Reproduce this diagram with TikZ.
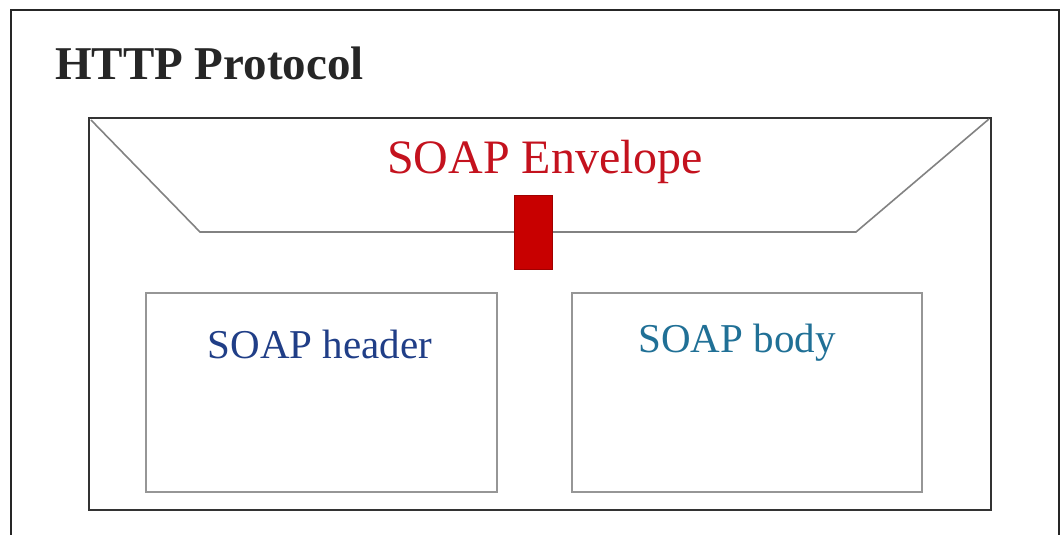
\documentclass[tikz,border=0pt]{standalone}
\usepackage{fontspec}
\setmainfont{Liberation Serif}
\definecolor{envred}{RGB}{196,18,30}
\definecolor{hdrblue}{RGB}{32,62,135}
\definecolor{bodyteal}{RGB}{32,112,150}
\definecolor{sealred}{RGB}{200,0,0}
\definecolor{boxgray}{RGB}{150,150,150}
\definecolor{linegray}{RGB}{130,130,130}
\begin{document}
\begin{tikzpicture}[x=1pt,y=-1pt,
  outerline/.style={draw=black!85,line width=2.6pt},
  envline/.style={draw=black!80,line width=2.2pt},
  flapline/.style={draw=linegray,line width=1.6pt},
  partbox/.style={draw=boxgray,line width=1.6pt,rectangle,inner sep=0pt},
  lbl/.style={inner sep=0pt,font=\fontsize{41}{41}\selectfont}]
\useasboundingbox (0,0) rectangle (1061,535);
\fill[white] (0,0) rectangle (1061,535);
% outer HTTP box (bottom edge outside the picture)
\coordinate (obl) at (11,540);
\coordinate (otl) at (11,10);
\coordinate (otr) at (1059,10);
\coordinate (obr) at (1059,540);
\draw[outerline] (obl) -- (otl) -- (otr) -- (obr);
\node[anchor=base west,inner sep=0pt,font=\fontsize{47}{47}\selectfont\bfseries,text=black!85] (http) at (55,80) {HTTP Protocol};
% envelope
\coordinate (etl) at (89,118);
\coordinate (ebr) at (991,510);
\draw[envline] (etl) rectangle (ebr);
\coordinate (fl) at (200,232);
\coordinate (fr) at (856,232);
\coordinate (etr) at (989,119);
\draw[flapline] (91,120) -- (fl) -- (fr) -- (etr);
\node[anchor=base,inner sep=0pt,font=\fontsize{48}{48}\selectfont,text=envred] (env) at (545,173) {SOAP Envelope};
\node[fill=sealred,draw=sealred!80!black,line width=0.4pt,minimum width=38pt,minimum height=74pt,inner sep=0pt] (seal) at (533,232) {};
% header and body
\node[partbox,minimum width=351pt,minimum height=199pt] (hdr) at (321.5,392.5) {};
\node[partbox,minimum width=350pt,minimum height=199pt] (body) at (747,392.5) {};
\node[lbl,anchor=base,text=hdrblue] (hdrt) at (320,358) {SOAP header};
\node[lbl,anchor=base,text=bodyteal] (bodyt) at (737,352) {SOAP body};
\end{tikzpicture}
\end{document}
